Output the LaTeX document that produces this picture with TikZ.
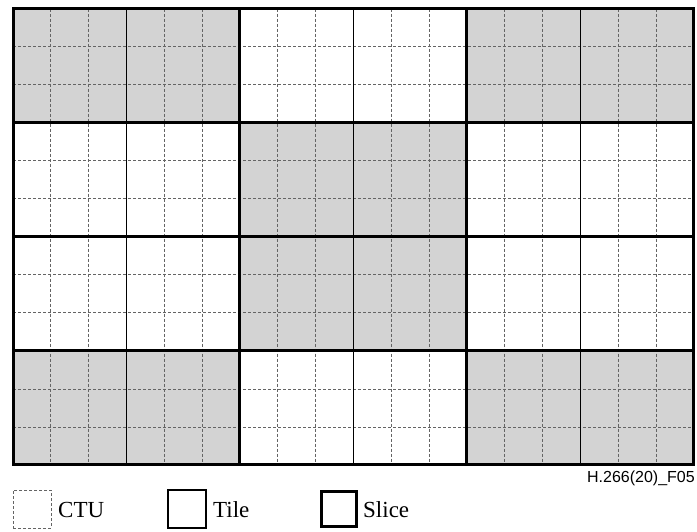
\documentclass[tikz,border=0pt]{standalone}
\usepackage{fontspec}
\setmainfont{Liberation Serif}
\setsansfont{Liberation Sans}
\definecolor{slicegray}{RGB}{211,211,211}
\definecolor{ctugray}{RGB}{100,100,100}
\tikzset{
  ctuline/.style={draw=ctugray, line width=0.8pt, dash pattern=on 3pt off 2pt},
  tileline/.style={draw=black, line width=1.2pt},
  sliceline/.style={draw=black, line width=3pt, line cap=rect},
  legendtext/.style={anchor=west, inner sep=0pt, font=\fontsize{23}{26}\selectfont},
}
\begin{document}
\begin{tikzpicture}[x=1pt,y=-1pt]
\useasboundingbox (0,0) rectangle (697,531);
\begin{scope}[shift={(13,8.5)}, x=37.83pt, y=-38.04pt]
  \foreach \i/\j in {0/0, 2/0, 1/1, 1/2, 0/3, 2/3}
    \fill[fill=slicegray] (6*\i,3*\j) rectangle +(6,3);
  \foreach \k in {1,...,17}
    \draw[ctuline] (\k,0) -- (\k,12);
  \foreach \k in {1,...,11}
    \draw[ctuline] (0,\k) -- (18,\k);
  \foreach \k in {3,9,15}
    \draw[tileline] (\k,0) -- (\k,12);
  \foreach \k in {0,6,12,18}
    \draw[sliceline] (\k,0) -- (\k,12);
  \foreach \k in {0,3,6,9,12}
    \draw[sliceline] (0,\k) -- (18,\k);
\end{scope}
\node[anchor=east, inner sep=0pt, font=\sffamily\fontsize{16}{18}\selectfont] (fig) at (695,478) {H.266(20)\_F05};
% legend
\node[ctuline, minimum size=38pt, inner sep=0pt] (ctubox) at (32,509) {};
\node[legendtext] (ctulbl) at (58,510) {CTU};
\node[tileline, minimum size=38pt, inner sep=0pt] (tilebox) at (187,509) {};
\node[legendtext] (tilelbl) at (213,510) {Tile};
\node[draw, line width=3pt, minimum size=35pt, inner sep=0pt] (slicebox) at (338.5,509) {};
\node[legendtext] (slicelbl) at (363,510) {Slice};
\end{tikzpicture}
\end{document}
